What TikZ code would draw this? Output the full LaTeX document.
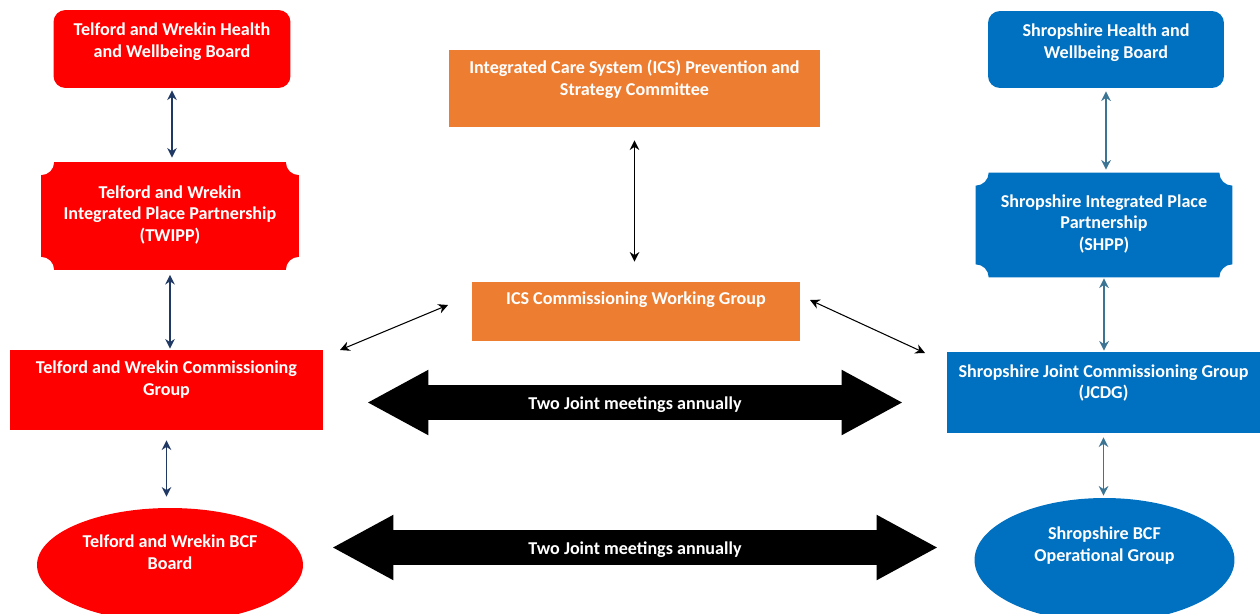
\documentclass[tikz,border=0pt]{standalone}
\usepackage{fontspec}
\setmainfont{Carlito}
\usetikzlibrary{arrows.meta,shapes.geometric,shapes.arrows}

\definecolor{twred}{HTML}{FF0000}
\definecolor{icsorange}{HTML}{ED7D31}
\definecolor{shblue}{HTML}{0070C0}
\definecolor{twnavy}{HTML}{1F3864}
\definecolor{shteal}{HTML}{3C7494}

\tikzset{
  box/.style={rectangle, inner sep=0pt},
  oval/.style={ellipse, inner sep=0pt},
  txt/.style={text=white, font=\bfseries\fontsize{10.3}{12.5}\selectfont, align=center, inner sep=0pt},
  link/.style={{Stealth[length=5.5pt,width=5.5pt]}-{Stealth[length=5.5pt,width=5.5pt]}, line width=0.8pt},
  bigarrow/.style={double arrow, fill=black, double arrow tip angle=57,
    double arrow head extend=0.31cm, inner xsep=0pt, inner ysep=5.14pt,
    text height=8.5pt, text depth=0.5pt, text=white,
    font=\bfseries\fontsize{10.3}{12.5}\selectfont}
}

% box with notched (concave) corners
\newcommand{\plaque}[2]{%
  \fill[#2] ([xshift=0.26cm]#1.north west) -- ([xshift=-0.26cm]#1.north east)
    arc[start angle=180, end angle=270, radius=0.26cm]
    -- ([yshift=0.26cm]#1.south east)
    arc[start angle=90, end angle=180, radius=0.26cm]
    -- ([xshift=0.26cm]#1.south west)
    arc[start angle=0, end angle=90, radius=0.26cm]
    -- ([yshift=-0.26cm]#1.north west)
    arc[start angle=270, end angle=360, radius=0.26cm] -- cycle;}

\begin{document}
\begin{tikzpicture}[x=0.02cm, y=-0.02cm]
  \useasboundingbox (0,0) rectangle (1260,613);

  % Telford and Wrekin side
  \node[box, fill=twred, rounded corners=0.24cm, minimum width=4.74cm, minimum height=1.56cm] (twhwb) at (172,49) {};
  \node[txt] (twhwb-t) at (172,42) {Telford and Wrekin Health\\and Wellbeing Board};
  \node[box, minimum width=5.14cm, minimum height=2.14cm] (twipp) at (170,216) {};
  \plaque{twipp}{twred}
  \node[txt] (twipp-t) at (170,215) {Telford and Wrekin\\Integrated Place Partnership\\(TWIPP)};
  \node[box, fill=twred, minimum width=6.26cm, minimum height=1.6cm] (twcg) at (166.5,390) {};
  \node[txt] (twcg-t) at (166.5,380) {Telford and Wrekin Commissioning\\Group};
  \node[oval, fill=twred, minimum width=5.32cm, minimum height=2.28cm] (twbcf) at (170,565) {};
  \node[txt] (twbcf-t) at (170,552) {Telford and Wrekin BCF\\Board};

  % ICS boxes
  \node[box, fill=icsorange, minimum width=7.42cm, minimum height=1.54cm] (icsp) at (634.5,88.5) {};
  \node[txt] (icsp-t) at (634.5,79) {Integrated Care System (ICS) Prevention and\\Strategy Committee};
  \node[box, fill=icsorange, minimum width=6.56cm, minimum height=1.18cm] (icscwg) at (636,311.5) {};
  \node[txt] (icscwg-t) at (636,300) {ICS Commissioning Working Group};

  % Shropshire side
  \node[box, fill=shblue, rounded corners=0.24cm, minimum width=4.72cm, minimum height=1.54cm] (shhwb) at (1106,49.5) {};
  \node[txt] (shhwb-t) at (1106,43) {Shropshire Health and\\Wellbeing Board};
  \node[box, minimum width=5.12cm, minimum height=2.08cm] (shpp) at (1104,225) {};
  \plaque{shpp}{shblue}
  \node[txt] (shpp-t) at (1104,224) {Shropshire Integrated Place\\Partnership\\(SHPP)};
  \node[box, fill=shblue, minimum width=6.26cm, minimum height=1.62cm] (shjcg) at (1103.5,392.5) {};
  \node[txt] (shjcg-t) at (1103.5,383) {Shropshire Joint Commissioning Group\\(JCDG)};
  \node[oval, fill=shblue, minimum width=5.2cm, minimum height=2.48cm] (shbcf) at (1104.5,560) {};
  \node[txt] (shbcf-t) at (1104.5,546) {Shropshire BCF\\Operational Group};

  % joint meeting arrows
  \node[bigarrow, minimum height=10.68cm] (jointtop) at (635,402.5) {Two Joint meetings annually};
  \node[bigarrow, minimum height=12.08cm] (jointbot) at (635,547.5) {Two Joint meetings annually};

  % links
  \draw[link, twnavy, shorten <=0.04cm, shorten >=0.09cm] (twhwb.south) -- (twhwb.south |- twipp.north);
  \draw[link, twnavy, shorten <=0.1cm, shorten >=0.02cm] (twipp.south) -- (twipp.south |- twcg.north);
  \draw[link, twnavy, shorten <=0.2cm, shorten >=0.22cm] (twcg.south) -- (twcg.south |- twbcf.north);
  \draw[link, shteal, shorten <=0.06cm, shorten >=0.06cm] (shhwb.south) -- (shhwb.south |- shpp.north);
  \draw[link, shteal, shorten <=0.02cm, shorten >=0.02cm] (shpp.south) -- (shpp.south |- shjcg.north);
  \draw[link, shteal, shorten <=0.08cm, shorten >=0.04cm] (shjcg.south) -- (shjcg.south |- shbcf.north);
  \draw[link, black, shorten <=0.26cm, shorten >=0.4cm] (icsp.south) -- (icsp.south |- icscwg.north);
  \coordinate (cwgl) at (448,305);
  \coordinate (twcgr) at (340,350);
  \coordinate (cwgr) at (810,300);
  \coordinate (shjcgl) at (925,353);
  \draw[link, black, line width=0.6pt] (cwgl) -- (twcgr);
  \draw[link, black, line width=0.6pt] (cwgr) -- (shjcgl);
\end{tikzpicture}
\end{document}
